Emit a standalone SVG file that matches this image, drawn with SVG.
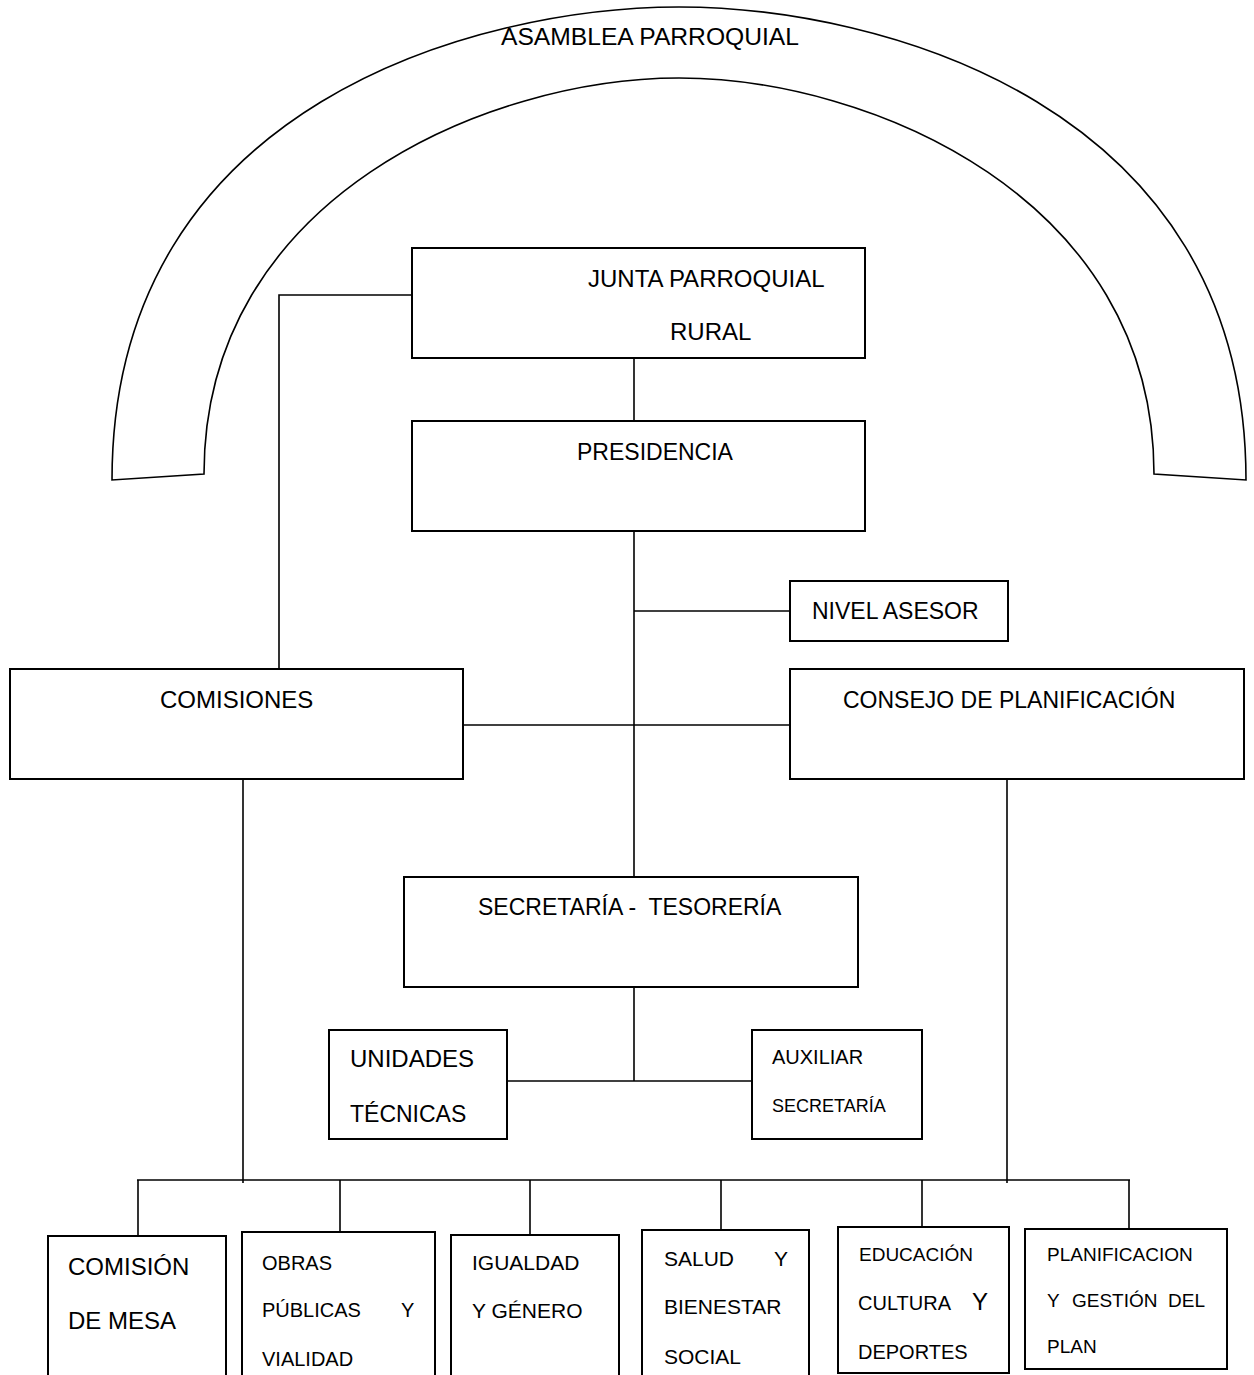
<svg xmlns="http://www.w3.org/2000/svg" width="1254" height="1375" viewBox="0 0 1254 1375">
<style>
  .box { fill: #ffffff; stroke: #000000; stroke-width: 2; }
  .ln { fill: none; stroke: #000000; stroke-width: 1.6; }
  .arch { fill: #ffffff; stroke: #000000; stroke-width: 1.6; stroke-linejoin: miter; }
  text { font-family: "Liberation Sans", Arial, sans-serif; fill: #000000; }
  .t24 { font-size: 24px; }
  .t23 { font-size: 23px; }
  .t21 { font-size: 21px; }
  .t20 { font-size: 20px; }
  .t19 { font-size: 19px; }
  .t18 { font-size: 18px; }
</style>
<rect x="0" y="0" width="1254" height="1375" fill="#ffffff"/>

<g id="asamblea">
  <path class="arch" d="M112,480 C112,102 481,7 679,7 C877,7 1246,102 1246,480 L1154,474 C1154,197 869,78 679,78 C489,78 204,197 204,474 Z"/>
  <text class="t23" x="501" y="45" textLength="298" lengthAdjust="spacingAndGlyphs">ASAMBLEA PARROQUIAL</text>
</g>

<g id="connectors">
  <path class="ln" d="M634,358 V421"/>
  <path class="ln" d="M412,295 H279 V669"/>
  <path class="ln" d="M634,531 V877"/>
  <path class="ln" d="M634,611 H790"/>
  <path class="ln" d="M463,725 H790"/>
  <path class="ln" d="M634,987 V1081"/>
  <path class="ln" d="M507,1081 H752"/>
  <path class="ln" d="M243,779 V1183"/>
  <path class="ln" d="M1007,779 V1183"/>
  <path class="ln" d="M137,1180 H1130"/>
  <path class="ln" d="M138,1180 V1236"/>
  <path class="ln" d="M340,1180 V1232"/>
  <path class="ln" d="M530,1180 V1235"/>
  <path class="ln" d="M721,1180 V1230"/>
  <path class="ln" d="M922,1180 V1232"/>
  <path class="ln" d="M1129,1180 V1230"/>
</g>

<g id="junta">
  <rect class="box" x="412" y="248" width="453" height="110"/>
  <text class="t24" x="588" y="287">JUNTA PARROQUIAL</text>
  <text class="t24" x="670" y="340">RURAL</text>
</g>

<g id="presidencia">
  <rect class="box" x="412" y="421" width="453" height="110"/>
  <text class="t23" x="577" y="460">PRESIDENCIA</text>
</g>

<g id="nivel-asesor">
  <rect class="box" x="790" y="581" width="218" height="60"/>
  <text class="t23" x="812" y="619">NIVEL ASESOR</text>
</g>

<g id="comisiones">
  <rect class="box" x="10" y="669" width="453" height="110"/>
  <text class="t24" x="160" y="708">COMISIONES</text>
</g>

<g id="consejo">
  <rect class="box" x="790" y="669" width="454" height="110"/>
  <text class="t23" x="843" y="708">CONSEJO DE PLANIFICACIÓN</text>
</g>

<g id="secretaria-tesoreria">
  <rect class="box" x="404" y="877" width="454" height="110"/>
  <text class="t23" x="478" y="915" xml:space="preserve">SECRETARÍA -  TESORERÍA</text>
</g>

<g id="unidades-tecnicas">
  <rect class="box" x="329" y="1030" width="178" height="109"/>
  <text class="t24" x="350" y="1067">UNIDADES</text>
  <text class="t23" x="350" y="1122">TÉCNICAS</text>
</g>

<g id="auxiliar-secretaria">
  <rect class="box" x="752" y="1030" width="170" height="109"/>
  <text class="t20" x="772" y="1064">AUXILIAR</text>
  <text class="t18" x="772" y="1112">SECRETARÍA</text>
</g>

<g id="comision-mesa">
  <rect class="box" x="48" y="1236" width="178" height="160"/>
  <text class="t24" x="68" y="1275">COMISIÓN</text>
  <text class="t24" x="68" y="1329">DE MESA</text>
</g>

<g id="obras-publicas">
  <rect class="box" x="242" y="1232" width="193" height="160"/>
  <text class="t20" x="262" y="1270">OBRAS</text>
  <text class="t20" x="262" y="1317">PÚBLICAS</text>
  <text class="t20" x="401" y="1317">Y</text>
  <text class="t20" x="262" y="1366">VIALIDAD</text>
</g>

<g id="igualdad-genero">
  <rect class="box" x="451" y="1235" width="168" height="160"/>
  <text class="t21" x="472" y="1270">IGUALDAD</text>
  <text class="t21" x="472" y="1318">Y GÉNERO</text>
</g>

<g id="salud-bienestar">
  <rect class="box" x="642" y="1230" width="167" height="160"/>
  <text class="t21" x="664" y="1266">SALUD</text>
  <text class="t21" x="774" y="1266">Y</text>
  <text class="t21" x="664" y="1314">BIENESTAR</text>
  <text class="t21" x="664" y="1364">SOCIAL</text>
</g>

<g id="educacion-cultura">
  <rect class="box" x="838" y="1227" width="171" height="146"/>
  <text class="t19" x="859" y="1261">EDUCACIÓN</text>
  <text class="t20" x="858" y="1310">CULTURA</text>
  <text x="972" y="1310" font-size="24">Y</text>
  <text class="t20" x="858" y="1359">DEPORTES</text>
</g>

<g id="planificacion-gestion">
  <rect class="box" x="1025" y="1229" width="202" height="140"/>
  <text class="t19" x="1047" y="1261">PLANIFICACION</text>
  <text class="t19" x="1047" y="1307">Y</text>
  <text class="t19" x="1072" y="1307">GESTIÓN</text>
  <text class="t19" x="1168" y="1307">DEL</text>
  <text class="t19" x="1047" y="1353">PLAN</text>
</g>
</svg>
